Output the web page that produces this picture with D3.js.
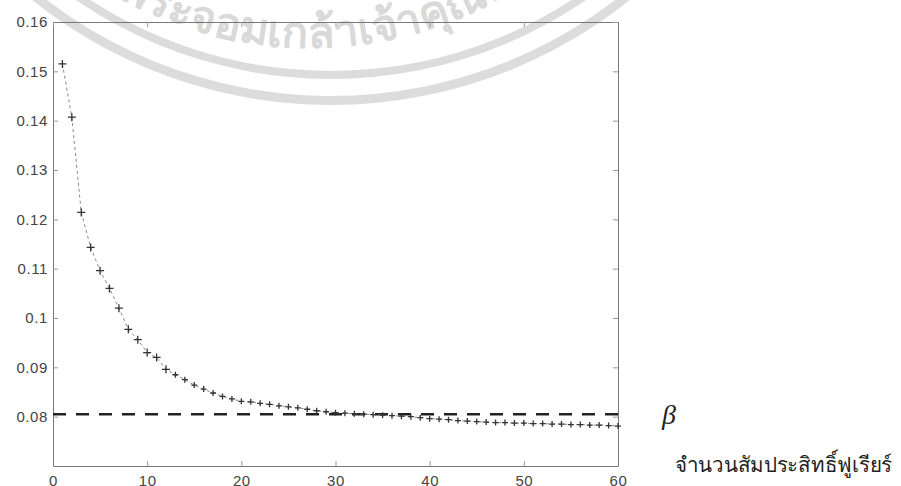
<!DOCTYPE html>
<html>
  <head>
    <meta charset="utf-8">
    <title>Fourier coefficients vs beta</title>
    <script src="https://d3js.org/d3.v7.min.js"></script>
    <style>
      body { margin: 0; background: #fff; }
    </style>
  </head>

  <body>
    <svg width="901" height="486"></svg>

    <script type="text/javascript">
      // values
      var nCoef = [1, 2, 3, 4, 5, 6, 7, 8, 9, 10, 11, 12, 13, 14, 15, 16, 17, 18, 19, 20,
        21, 22, 23, 24, 25, 26, 27, 28, 29, 30, 31, 32, 33, 34, 35, 36, 37, 38, 39, 40,
        41, 42, 43, 44, 45, 46, 47, 48, 49, 50, 51, 52, 53, 54, 55, 56, 57, 58, 59, 60];
      var errValues = [0.1515, 0.1407, 0.1214, 0.1143, 0.1096, 0.1060, 0.1020, 0.0977, 0.0956, 0.0930,
        0.0920, 0.0896, 0.0885, 0.0875, 0.0864, 0.0856, 0.0848, 0.0841, 0.0836, 0.0831,
        0.0830, 0.0827, 0.0825, 0.0822, 0.0820, 0.0818, 0.0815, 0.0812, 0.0810, 0.0808,
        0.0807, 0.0806, 0.0805, 0.0804, 0.0803, 0.0802, 0.0801, 0.0800, 0.0798, 0.0796,
        0.0795, 0.0794, 0.0792, 0.0791, 0.0790, 0.0789, 0.0788, 0.0788, 0.0787, 0.0787,
        0.0786, 0.0786, 0.0785, 0.0785, 0.0784, 0.0784, 0.0783, 0.0783, 0.0782, 0.0781];
      var betaValue = 0.0805;
      var xTicks = [0, 10, 20, 30, 40, 50, 60];
      var yTicks = [0.08, 0.09, 0.1, 0.11, 0.12, 0.13, 0.14, 0.15, 0.16];
      var yTickLabels = ["0.08", "0.09", "0.1", "0.11", "0.12", "0.13", "0.14", "0.15", "0.16"];
      var betaLabel = "\u03B2";
      var xLabel = "จำนวนสัมประสิทธิ์ฟูเรียร์";
      var watermarkText = "สถาบันเทคโนโลยีพระจอมเกล้าเจ้าคุณทหารลาดกระบัง";

      var svg = d3.select("svg");

      // watermark seal from the scan (two rings + curved name)
      var wm = svg.append("g").attr("transform", "translate(331,-372)");
      wm.append("path")
        .attr("d", d3.arc().innerRadius(468).outerRadius(477).startAngle(0).endAngle(2 * Math.PI)())
        .attr("fill", "#dcdcdc");
      wm.append("path")
        .attr("d", d3.arc().innerRadius(443).outerRadius(451).startAngle(0).endAngle(2 * Math.PI)())
        .attr("fill", "#dcdcdc");

      var wcx = 310, wcy = -340, wr = 388;
      var ring = d3.path();
      ring.arc(wcx, wcy, wr, Math.PI, -Math.PI, true);
      svg.append("path").attr("id", "wmPath").attr("d", ring.toString()).attr("fill", "none");
      var wmFont = "'Noto Sans', sans-serif";
      var wmTp = svg.append("text")
        .style("font-family", wmFont)
        .style("font-size", "44px")
        .style("font-weight", "bold")
        .attr("fill", "#d9d9d9")
        .append("textPath")
        .attr("href", "#wmPath")
        .text(watermarkText);
      // place "จอมเกล้า" where the scan shows it
      var probe = svg.append("text")
        .style("font-family", wmFont)
        .style("font-size", "44px")
        .style("font-weight", "bold")
        .text("สถาบันเทคโนโลยีพระ");
      var prefixW = probe.node().getComputedTextLength();
      probe.remove();
      var theta = Math.acos((187 - wcx) / wr);
      wmTp.attr("startOffset", wr * (Math.PI - theta) - prefixW);

      var xScale = d3.scaleLinear().domain([0, 60]).range([53, 618]);
      var yScale = d3.scaleLinear().domain([0.07, 0.16]).range([466, 22]);

      // axes, MATLAB style box with inward ticks
      var tickFont = "'Liberation Sans', Arial, sans-serif";
      svg.append("g")
        .attr("transform", "translate(0,466)")
        .call(d3.axisBottom(xScale).tickValues(xTicks).tickSize(-5).tickSizeOuter(0).tickPadding(9));
      svg.append("g")
        .attr("transform", "translate(53,0)")
        .call(d3.axisLeft(yScale).tickValues(yTicks)
          .tickFormat(function (d, i) { return yTickLabels[i]; })
          .tickSize(-5).tickSizeOuter(0).tickPadding(5));
      svg.append("g")
        .attr("transform", "translate(0,22)")
        .call(d3.axisTop(xScale).tickValues(xTicks).tickSize(-5).tickSizeOuter(0).tickFormat(""));
      svg.append("g")
        .attr("transform", "translate(618,0)")
        .call(d3.axisRight(yScale).tickValues(yTicks).tickSize(-5).tickSizeOuter(0).tickFormat(""));

      svg.selectAll(".domain").attr("stroke", "#777");
      svg.selectAll(".tick line").attr("stroke", "#999");
      svg.selectAll(".tick text")
        .style("font-family", tickFont)
        .style("font-size", "15px")
        .style("letter-spacing", "0.6px")
        .attr("fill", "#444");

      // beta reference line
      svg.append("line")
        .attr("x1", xScale(0))
        .attr("x2", xScale(60))
        .attr("y1", yScale(betaValue))
        .attr("y2", yScale(betaValue))
        .attr("stroke", "#222")
        .attr("stroke-width", 2.5)
        .attr("stroke-dasharray", "13,10");

      // the error curve
      var pts = nCoef.map(function (n, i) { return { n: n, v: errValues[i] }; });
      var lineGenerator = d3.line()
        .x(function (d) { return xScale(d.n); })
        .y(function (d) { return yScale(d.v); });
      svg.append("path")
        .attr("d", lineGenerator(pts))
        .attr("fill", "none")
        .attr("stroke", "#888")
        .attr("stroke-width", 1)
        .attr("stroke-dasharray", "3,3");
      svg.append("g")
        .selectAll("path")
        .data(pts)
        .enter()
        .append("path")
        .attr("transform", function (d) {
          return "translate(" + xScale(d.n) + "," + yScale(d.v) + ")";
        })
        .attr("d", function (d, i) {
          var s = i < 12 ? 4 : 3;
          return "M" + -s + ",0H" + s + "M0," + -s + "V" + s;
        })
        .attr("stroke", "#333")
        .attr("stroke-width", 1.3);

      // labels at the right
      svg.append("text")
        .attr("x", 669)
        .attr("y", yScale(betaValue))
        .attr("dy", "0.35em")
        .attr("text-anchor", "middle")
        .style("font-family", "'Liberation Serif', 'DejaVu Serif', serif")
        .style("font-style", "italic")
        .style("font-size", "28px")
        .attr("fill", "#222")
        .text(betaLabel);
      svg.append("text")
        .attr("x", 675)
        .attr("y", 472)
        .attr("textLength", 217)
        .attr("lengthAdjust", "spacingAndGlyphs")
        .style("font-family", "'Liberation Serif', serif")
        .style("font-size", "21px")
        .attr("fill", "#222")
        .text(xLabel);
    </script>
  </body>
</html>
